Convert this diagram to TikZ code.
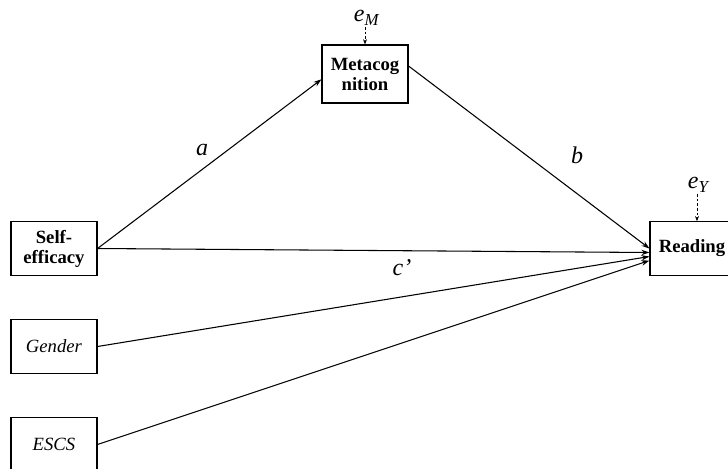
\documentclass[tikz,border=0pt]{standalone}
\usepackage{fontspec}
\setmainfont{Liberation Serif}
\usepackage{tikz}
\usetikzlibrary{arrows.meta, positioning}

\begin{document}
\begin{tikzpicture}[
  x=0.75pt, y=-0.75pt,
  every node/.style={font=\fontsize{14}{15}\selectfont},
  var/.style={draw, thick, minimum width=64.5pt, minimum height=40pt, align=center, inner sep=1pt},
  path/.style={thick, -{Stealth[length=6pt, width=4pt]}},
  err/.style={semithick, dash pattern=on 2pt off 1.5pt, -{Stealth[length=4pt, width=3pt]}},
  lbl/.style={font=\fontsize{18}{20}\selectfont\itshape}
]
  \useasboundingbox (0,0) rectangle (728,468);

  % variables
  \node[var, minimum height=43.5pt] (meta) at (365,74) {\textbf{Metacog}\\\textbf{nition}};
  \node[var, minimum width=63pt] (read) at (692,248.5) {\textbf{Reading}};
  \node[var] (self) at (54,248.5) {\textbf{Self-}\\\textbf{efficacy}};
  \node[var] (gender) at (54,346.5) {\textit{Gender}};
  \node[var] (escs) at (54,444.5) {\textit{ESCS}};

  % residuals
  \node[font=\fontsize{18}{19}\selectfont, inner sep=1pt] (eM) at (367,18) {\textit{e}\textsubscript{\textit{M}}};
  \node[font=\fontsize{18}{19}\selectfont, inner sep=1pt] (eY) at (699,185) {\textit{e}\textsubscript{\textit{Y}}};
  \draw[err] (eM.south -| meta.north) -- (meta.north);
  \draw[err] (eY.south -| 697,0) -- (697,0 |- read.north);

  % paths
  \draw[path] (self.east) -- ([yshift=-4]meta.west);
  \draw[path] ([yshift=6]meta.east) -- ([yshift=0]read.west);
  \draw[path] (self.east) -- ([yshift=-3]read.west);
  \draw[path] (gender.east) -- ([yshift=-6]read.west);
  \draw[path] (escs.east) -- ([yshift=-9]read.west);

  \node[lbl] (la) at (202,150) {a};
  \node[lbl] (lb) at (577,155) {b};
  \node[lbl] (lc) at (402,268) {c'};
\end{tikzpicture}
\end{document}
